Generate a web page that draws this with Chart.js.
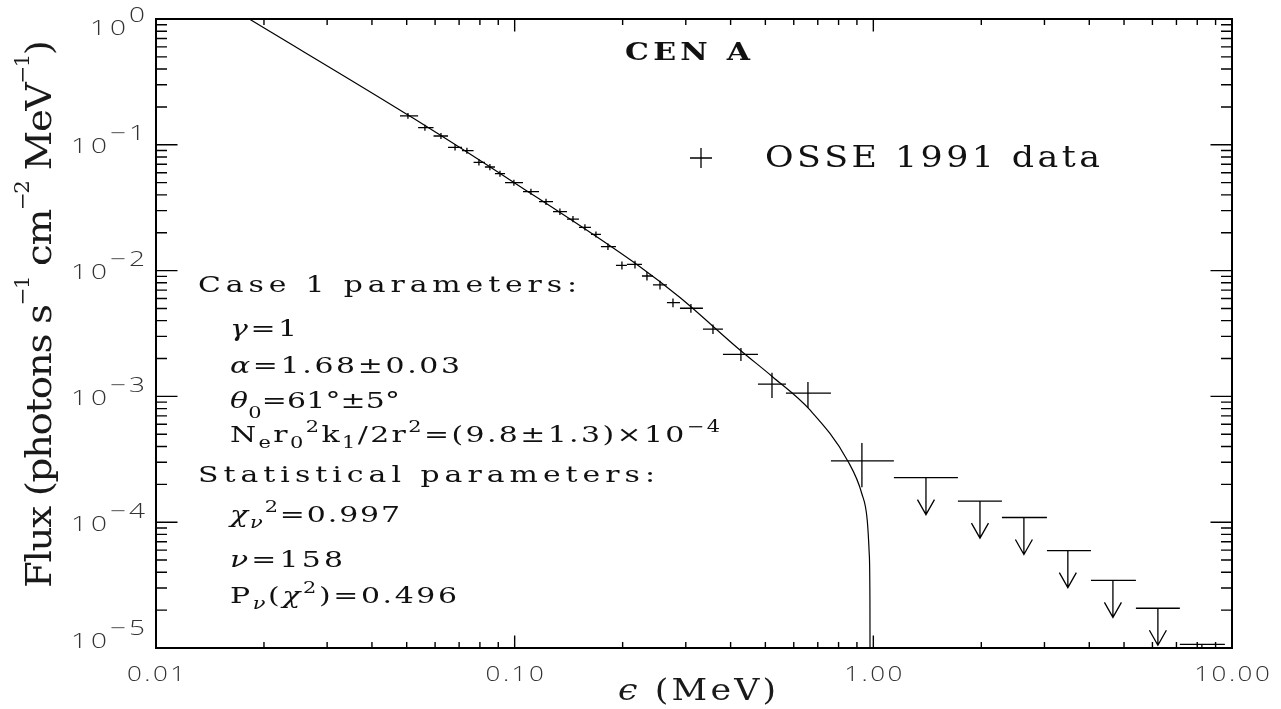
<!DOCTYPE html>
<html>
<head>
<meta charset="utf-8">
<script src="https://cdn.jsdelivr.net/npm/chart.js@4.4.1/dist/chart.umd.min.js"></script>
<style>
html, body { margin: 0; padding: 0; background: #fff; }
#wrap { width: 1281px; height: 709px; }
</style>
</head>
<body>
<div id="wrap"><canvas id="chart" width="1281" height="709"></canvas></div>
<script>
// OSSE 1991 points: bin centre, bin edges (MeV) and flux with its range
const energy = [0.0504, 0.0562, 0.0623, 0.0682, 0.0736, 0.0795, 0.0853, 0.0910, 0.0995, 0.1110,
    0.1223, 0.1337, 0.1454, 0.1570, 0.1685, 0.1820, 0.1991, 0.2165, 0.2338, 0.2542,
    0.2763, 0.3100, 0.3572, 0.4274, 0.5217, 0.6572, 0.9293];
const energyLo = [0.0479, 0.0538, 0.0594, 0.0652, 0.0713, 0.0768, 0.0826, 0.0881, 0.0940, 0.1055,
    0.1169, 0.1279, 0.1399, 0.1511, 0.1632, 0.1740, 0.1916, 0.2056, 0.2264, 0.2430,
    0.2658, 0.2890, 0.3349, 0.3808, 0.4768, 0.5706, 0.7617];
const energyHi = [0.0538, 0.0594, 0.0652, 0.0713, 0.0768, 0.0826, 0.0881, 0.0940, 0.1055, 0.1169,
    0.1279, 0.1399, 0.1511, 0.1632, 0.1740, 0.1916, 0.2056, 0.2264, 0.2430, 0.2658,
    0.2890, 0.3349, 0.3808, 0.4768, 0.5706, 0.7617, 1.141];
const flux = [0.170, 0.1368, 0.1175, 0.0955, 0.0898, 0.0726, 0.0666, 0.0589, 0.0500, 0.0424,
    0.0353, 0.0294, 0.0257, 0.0221, 0.0194, 0.0155, 0.0110, 0.0112, 0.00906, 0.00769,
    0.00556, 0.00502, 0.00343, 0.00216, 0.00125, 0.00106, 0.000307];
const fluxLo = [0.161, 0.1293, 0.1110, 0.0902, 0.0848, 0.0686, 0.0629, 0.0556, 0.0472, 0.0400,
    0.0333, 0.0277, 0.0242, 0.0208, 0.0183, 0.0146, 0.0102, 0.0104, 0.00836, 0.00709,
    0.00511, 0.00462, 0.00313, 0.00191, 0.00097, 0.00081, 0.000190];
const fluxHi = [0.179, 0.1443, 0.1240, 0.1008, 0.0948, 0.0766, 0.0703, 0.0622, 0.0528, 0.0448,
    0.0373, 0.0311, 0.0272, 0.0234, 0.0205, 0.0164, 0.0118, 0.0120, 0.00976, 0.00829,
    0.00601, 0.00542, 0.00373, 0.00243, 0.00154, 0.00130, 0.000426];

// upper limits above 1 MeV
const limitEnergy = [1.402, 1.983, 2.629, 3.486, 4.656, 6.214, 8.242];
const limitLo = [1.141, 1.721, 2.283, 3.048, 4.043, 5.396, 7.155];
const limitHi = [1.721, 2.283, 3.048, 4.043, 5.396, 7.155, 9.553];
const limitFlux = [2.26e-4, 1.47e-4, 1.09e-4, 5.94e-5, 3.45e-5, 2.07e-5, 1.07e-5];

// case 1 model curve
const modelEnergy = [0.0182, 0.0522, 0.0995, 0.2235, 0.2890, 0.4247, 0.5233, 0.6657, 0.8495,
    0.9294, 0.9615, 0.9739, 0.9784, 0.9790];
const modelFlux = [1.0, 0.1624, 0.0502, 0.01074, 0.00611, 0.002338, 0.001434, 0.000780, 0.0003054,
    0.0001676, 0.0001041, 5.66e-5, 2.41e-5, 8e-6];

const xMajor = [0.01, 0.1, 1, 10];
const xMajorLabels = ['0.01', '0.10', '1.00', '10.00'];
const xMinor = [0.02, 0.03, 0.04, 0.05, 0.06, 0.07, 0.08, 0.09,
    0.2, 0.3, 0.4, 0.5, 0.6, 0.7, 0.8, 0.9,
    2, 3, 4, 5, 6, 7, 8, 9];
const yMajor = [1, 0.1, 0.01, 0.001, 0.0001, 0.00001];
const yMajorExp = ['0', '\u22121', '\u22122', '\u22123', '\u22124', '\u22125'];
const yMinor = [0.2, 0.3, 0.4, 0.5, 0.6, 0.7, 0.8, 0.9,
    0.02, 0.03, 0.04, 0.05, 0.06, 0.07, 0.08, 0.09,
    0.002, 0.003, 0.004, 0.005, 0.006, 0.007, 0.008, 0.009,
    0.0002, 0.0003, 0.0004, 0.0005, 0.0006, 0.0007, 0.0008, 0.0009,
    0.00002, 0.00003, 0.00004, 0.00005, 0.00006, 0.00007, 0.00008, 0.00009];

const SERIF = "'DejaVu Serif', 'Liberation Serif', serif";
const SANS = "'Open Sans', 'DejaVu Sans', sans-serif";

// text pieces: normal, italic (greek), subscript, superscript
const N = (t) => ({ t });
const G = (t) => ({ t, it: true });
const SB = (t, it, dy) => ({ t, it, k: 'sub', dy });
const SP = (t, it, dy) => ({ t, it, k: 'sup', dy });

const notes = [
    { x: 198, y: 292, w: 379, parts: [N('Case 1 parameters:')] },
    { x: 230, y: 336, w: 67, parts: [G('\u03b3'), N('=1')] },
    { x: 230, y: 373, w: 230, parts: [G('\u03b1'), N('=1.68\u00b10.03')] },
    { x: 230, y: 408, w: 170, parts: [G('\u03b8'), SB('0', false, 0.45), N('=61\u00b0\u00b15\u00b0')] },
    { x: 230, y: 442, w: 490, parts: [N('N'), SB('e'), N('r'), SB('0'), SP('2'), N('k'), SB('1'),
        N('/2r'), SP('2'), N('=(9.8\u00b11.3)\u00d710'), SP('\u22124')] },
    { x: 198, y: 482, w: 457, parts: [N('Statistical parameters:')] },
    { x: 230, y: 522, w: 170, parts: [G('\u03c7'), SB('\u03bd', true), SP('2'), N('=0.997')] },
    { x: 230, y: 567, w: 113, parts: [G('\u03bd'), N('=158')] },
    { x: 230, y: 603, w: 227, parts: [N('P'), SB('\u03bd', true), N('('), G('\u03c7'), SP('2'), N(')=0.496')] },
];

function pieceFont(p, size, family, weight, subScale) {
    const s = p.k ? size * subScale : size;
    return `${p.it ? 'italic ' : ''}${weight || 'normal'} ${s}px ${family}`;
}

// draws a run of text glyph by glyph, stretched by sx and spread to a given width
function drawRich(ctx, parts, x, y, size, opts = {}) {
    const family = opts.family || SERIF;
    const sx = opts.sx || 1;
    const subScale = opts.subScale || 0.7;
    let natural = 0;
    let count = 0;
    parts.forEach((p) => {
        ctx.font = pieceFont(p, size, family, opts.weight, subScale);
        for (const ch of p.t) {
            natural += ctx.measureText(ch).width * sx;
            count++;
        }
    });
    const gap = opts.width ? (opts.width - natural) / Math.max(1, count - 1) : (opts.gap || 0);
    let cx = x;
    parts.forEach((p) => {
        ctx.font = pieceFont(p, size, family, opts.weight, subScale);
        let dy = 0;
        if (p.k === 'sub') dy = size * (p.dy ?? 0.25);
        if (p.k === 'sup') dy = -size * (p.dy ?? (opts.supShift || 0.42));
        for (const ch of p.t) {
            ctx.save();
            ctx.translate(cx, y + dy);
            ctx.scale(sx, 1);
            ctx.fillText(ch, 0, 0);
            ctx.restore();
            cx += ctx.measureText(ch).width * sx + gap;
        }
    });
    return cx;
}

// plain runs for tick labels (current ctx.font)
function runWidth(ctx, text, sx, gap) {
    let w = 0;
    for (const ch of text) w += ctx.measureText(ch).width * sx + gap;
    return w - gap;
}

function drawRun(ctx, text, x, y, sx, gap) {
    let cx = x;
    for (const ch of text) {
        ctx.save();
        ctx.translate(cx, y);
        ctx.scale(sx, 1);
        ctx.fillText(ch, 0, 0);
        ctx.restore();
        cx += ctx.measureText(ch).width * sx + gap;
    }
}

const overlay = {
    id: 'overlay',
    afterDatasetsDraw(chart) {
        const { ctx, chartArea: a, scales: { x, y } } = chart;
        ctx.save();
        ctx.strokeStyle = '#000';
        ctx.fillStyle = '#111';
        ctx.textAlign = 'left';
        ctx.textBaseline = 'alphabetic';

        // data crosses
        ctx.save();
        ctx.beginPath();
        ctx.rect(a.left, a.top, a.right - a.left, a.bottom - a.top);
        ctx.clip();
        ctx.lineWidth = 1.3;
        chart.data.datasets[1].data.forEach((d) => {
            const px = x.getPixelForValue(d.x);
            const py = y.getPixelForValue(d.y);
            ctx.beginPath();
            ctx.moveTo(x.getPixelForValue(d.xMin), py);
            ctx.lineTo(x.getPixelForValue(d.xMax), py);
            ctx.moveTo(px, y.getPixelForValue(d.yMax));
            ctx.lineTo(px, y.getPixelForValue(d.yMin));
            ctx.stroke();
        });
        // upper limits
        chart.data.datasets[2].data.forEach((d) => {
            const px = x.getPixelForValue(d.x);
            const py = y.getPixelForValue(d.y);
            const tip = py + 37;
            ctx.beginPath();
            ctx.moveTo(x.getPixelForValue(d.xMin), py);
            ctx.lineTo(x.getPixelForValue(d.xMax), py);
            ctx.moveTo(px, py);
            ctx.lineTo(px, tip);
            ctx.moveTo(px - 8.5, tip - 15);
            ctx.lineTo(px, tip);
            ctx.lineTo(px + 8.5, tip - 15);
            ctx.stroke();
        });
        ctx.restore();

        // frame
        ctx.lineWidth = 2;
        ctx.strokeRect(a.left, a.top, a.right - a.left, a.bottom - a.top);

        // ticks
        ctx.lineWidth = 1.4;
        ctx.beginPath();
        xMajor.forEach((v) => {
            const px = x.getPixelForValue(v);
            ctx.moveTo(px, a.bottom); ctx.lineTo(px, a.bottom - 12.5);
            ctx.moveTo(px, a.top); ctx.lineTo(px, a.top + 12.5);
        });
        xMinor.forEach((v) => {
            const px = x.getPixelForValue(v);
            ctx.moveTo(px, a.bottom); ctx.lineTo(px, a.bottom - 6);
            ctx.moveTo(px, a.top); ctx.lineTo(px, a.top + 6);
        });
        yMajor.forEach((v) => {
            const py = y.getPixelForValue(v);
            ctx.moveTo(a.left, py); ctx.lineTo(a.left + 21.5, py);
            ctx.moveTo(a.right, py); ctx.lineTo(a.right - 21.5, py);
        });
        yMinor.forEach((v) => {
            const py = y.getPixelForValue(v);
            ctx.moveTo(a.left, py); ctx.lineTo(a.left + 11, py);
            ctx.moveTo(a.right, py); ctx.lineTo(a.right - 11, py);
        });
        ctx.stroke();

        // tick labels
        ctx.fillStyle = '#333';
        ctx.font = `300 20px ${SANS}`;
        xMajor.forEach((v, i) => {
            const px = x.getPixelForValue(v);
            const w = runWidth(ctx, xMajorLabels[i], 1.3, 2.5);
            drawRun(ctx, xMajorLabels[i], px - w / 2, a.bottom + 33, 1.3, 2.5);
        });
        yMajor.forEach((v, i) => {
            const py = y.getPixelForValue(v);
            const mid = Math.min(Math.max(py + 1.5, a.top + 8.5), a.bottom - 7.5);
            const base = mid + 7;
            const right = a.left - 11;
            const supW = runWidth(ctx, yMajorExp[i], 1.4, 3);
            const baseW = runWidth(ctx, '10', 1.4, 4);
            drawRun(ctx, yMajorExp[i], right - supW, base - 13, 1.4, 3);
            drawRun(ctx, '10', right - supW - 3 - baseW, base, 1.4, 4);
        });

        // axis titles
        ctx.fillStyle = '#1a1a1a';
        drawRich(ctx, [G('\u03f5'), N(' (MeV)')], 618, 700, 29, { width: 158, sx: 1.2 });
        ctx.save();
        ctx.translate(51, 588);
        ctx.rotate(-Math.PI / 2);
        drawRich(ctx, [N('Flux (photons s'), SP('\u22121'), N(' cm'), SP('\u22122'), N(' MeV'), SP('\u22121'), N(')')],
            0, 0, 36, { width: 548, supShift: 0.62, subScale: 0.55, sx: 1.08 });
        ctx.restore();

        // title and legend
        ctx.fillStyle = '#111';
        drawRich(ctx, [N('CEN A')], 625, 60, 24, { width: 125, weight: 'bold', sx: 1.25 });
        ctx.lineWidth = 1.3;
        ctx.beginPath();
        ctx.moveTo(690, 158); ctx.lineTo(712, 158);
        ctx.moveTo(701, 148); ctx.lineTo(701, 168);
        ctx.stroke();
        drawRich(ctx, [N('OSSE 1991 data')], 765, 167, 29, { width: 335, sx: 1.2 });

        // fit parameters
        notes.forEach((line) => {
            drawRich(ctx, line.parts, line.x, line.y, 23, { width: line.w, sx: 1.3 });
        });

        ctx.restore();
    },
};

new Chart(document.getElementById('chart'), {
    type: 'scatter',
    data: {
        datasets: [
            {
                type: 'line',
                data: modelEnergy.map((e, i) => ({ x: e, y: modelFlux[i] })),
                borderColor: '#000',
                borderWidth: 1.2,
                pointRadius: 0,
                fill: false,
                cubicInterpolationMode: 'monotone',
            },
            {
                data: energy.map((e, i) => ({
                    x: e, y: flux[i], xMin: energyLo[i], xMax: energyHi[i], yMin: fluxLo[i], yMax: fluxHi[i],
                })),
                pointRadius: 0,
            },
            {
                data: limitEnergy.map((e, i) => ({ x: e, y: limitFlux[i], xMin: limitLo[i], xMax: limitHi[i] })),
                pointRadius: 0,
            },
        ],
    },
    options: {
        responsive: false,
        animation: false,
        devicePixelRatio: 1,
        layout: { padding: { left: 156, right: 49, top: 19, bottom: 61 } },
        plugins: { legend: { display: false }, tooltip: { enabled: false } },
        scales: {
            x: { type: 'logarithmic', min: 0.01, max: 10, display: false },
            y: { type: 'logarithmic', min: 1e-5, max: 1, display: false },
        },
    },
    plugins: [overlay],
});
</script>
</body>
</html>
